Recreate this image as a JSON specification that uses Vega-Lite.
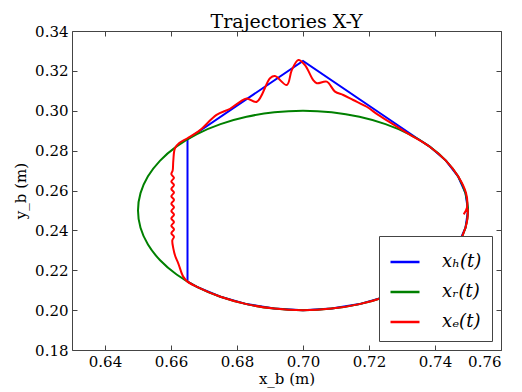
{
  "$schema": "https://vega.github.io/schema/vega-lite/v6.json",
  "width": 429,
  "height": 319,
  "autosize": {"type": "none"},
  "padding": {"left": 72, "top": 31, "right": 21, "bottom": 42},
  "background": "white",
  "title": {"text": "Trajectories X-Y", "font": "DejaVu Serif", "fontSize": 19, "fontWeight": "normal", "color": "black", "offset": -8},
  "config": {
    "view": {"stroke": "#444", "strokeWidth": 1},
    "axis": {"labelFont": "DejaVu Serif", "labelFontSize": 15, "labelColor": "black", "titleFont": "DejaVu Serif", "titleFontSize": 15, "titleFontWeight": "normal", "titleColor": "black", "grid": false, "domain": false, "tickColor": "#444", "tickSize": -5, "ticks": true},
    "legend": {"labelFont": "DejaVu Serif", "labelFontStyle": "italic", "labelFontSize": 18, "labelColor": "black"}
  },
  "datasets": {
    "traj": [
      {"series": "xₕ(t)", "ord": 0, "x": 0.665, "y": 0.2143},
      {"series": "xₕ(t)", "ord": 1, "x": 0.665, "y": 0.2857},
      {"series": "xₕ(t)", "ord": 2, "x": 0.70, "y": 0.325},
      {"series": "xₕ(t)", "ord": 3, "x": 0.735, "y": 0.2857},
      {"series": "xₕ(t)", "ord": 4, "x": 0.7383, "y": 0.28214},
      {"series": "xₕ(t)", "ord": 5, "x": 0.7433, "y": 0.275},
      {"series": "xₕ(t)", "ord": 6, "x": 0.74698, "y": 0.2671},
      {"series": "xₕ(t)", "ord": 7, "x": 0.74924, "y": 0.25868},
      {"series": "xₕ(t)", "ord": 8, "x": 0.75, "y": 0.25},
      {"series": "xₕ(t)", "ord": 9, "x": 0.74924, "y": 0.24132},
      {"series": "xₕ(t)", "ord": 10, "x": 0.74698, "y": 0.2329},
      {"series": "xₕ(t)", "ord": 11, "x": 0.7433, "y": 0.225},
      {"series": "xₕ(t)", "ord": 12, "x": 0.7383, "y": 0.21786},
      {"series": "xₕ(t)", "ord": 13, "x": 0.73214, "y": 0.2117},
      {"series": "xₕ(t)", "ord": 14, "x": 0.725, "y": 0.2067},
      {"series": "xₕ(t)", "ord": 15, "x": 0.7171, "y": 0.20302},
      {"series": "xₕ(t)", "ord": 16, "x": 0.70868, "y": 0.20076},
      {"series": "xₕ(t)", "ord": 17, "x": 0.70, "y": 0.20},
      {"series": "xₕ(t)", "ord": 18, "x": 0.69132, "y": 0.20076},
      {"series": "xₕ(t)", "ord": 19, "x": 0.6829, "y": 0.20302},
      {"series": "xₕ(t)", "ord": 20, "x": 0.675, "y": 0.2067},
      {"series": "xₕ(t)", "ord": 21, "x": 0.66786, "y": 0.2117},
      {"series": "xₕ(t)", "ord": 22, "x": 0.665, "y": 0.2143},

      {"series": "xᵣ(t)", "ord": 0, "x": 0.75, "y": 0.25},
      {"series": "xᵣ(t)", "ord": 1, "x": 0.74924, "y": 0.25868},
      {"series": "xᵣ(t)", "ord": 2, "x": 0.74698, "y": 0.2671},
      {"series": "xᵣ(t)", "ord": 3, "x": 0.7433, "y": 0.275},
      {"series": "xᵣ(t)", "ord": 4, "x": 0.7383, "y": 0.28214},
      {"series": "xᵣ(t)", "ord": 5, "x": 0.73214, "y": 0.2883},
      {"series": "xᵣ(t)", "ord": 6, "x": 0.725, "y": 0.2933},
      {"series": "xᵣ(t)", "ord": 7, "x": 0.7171, "y": 0.29698},
      {"series": "xᵣ(t)", "ord": 8, "x": 0.70868, "y": 0.29924},
      {"series": "xᵣ(t)", "ord": 9, "x": 0.70, "y": 0.30},
      {"series": "xᵣ(t)", "ord": 10, "x": 0.69132, "y": 0.29924},
      {"series": "xᵣ(t)", "ord": 11, "x": 0.6829, "y": 0.29698},
      {"series": "xᵣ(t)", "ord": 12, "x": 0.675, "y": 0.2933},
      {"series": "xᵣ(t)", "ord": 13, "x": 0.66786, "y": 0.2883},
      {"series": "xᵣ(t)", "ord": 14, "x": 0.6617, "y": 0.28214},
      {"series": "xᵣ(t)", "ord": 15, "x": 0.6567, "y": 0.275},
      {"series": "xᵣ(t)", "ord": 16, "x": 0.65302, "y": 0.2671},
      {"series": "xᵣ(t)", "ord": 17, "x": 0.65076, "y": 0.25868},
      {"series": "xᵣ(t)", "ord": 18, "x": 0.65, "y": 0.25},
      {"series": "xᵣ(t)", "ord": 19, "x": 0.65076, "y": 0.24132},
      {"series": "xᵣ(t)", "ord": 20, "x": 0.65302, "y": 0.2329},
      {"series": "xᵣ(t)", "ord": 21, "x": 0.6567, "y": 0.225},
      {"series": "xᵣ(t)", "ord": 22, "x": 0.6617, "y": 0.21786},
      {"series": "xᵣ(t)", "ord": 23, "x": 0.66786, "y": 0.2117},
      {"series": "xᵣ(t)", "ord": 24, "x": 0.675, "y": 0.2067},
      {"series": "xᵣ(t)", "ord": 25, "x": 0.6829, "y": 0.20302},
      {"series": "xᵣ(t)", "ord": 26, "x": 0.69132, "y": 0.20076},
      {"series": "xᵣ(t)", "ord": 27, "x": 0.70, "y": 0.20},
      {"series": "xᵣ(t)", "ord": 28, "x": 0.70868, "y": 0.20076},
      {"series": "xᵣ(t)", "ord": 29, "x": 0.7171, "y": 0.20302},
      {"series": "xᵣ(t)", "ord": 30, "x": 0.725, "y": 0.2067},
      {"series": "xᵣ(t)", "ord": 31, "x": 0.73214, "y": 0.2117},
      {"series": "xᵣ(t)", "ord": 32, "x": 0.7383, "y": 0.21786},
      {"series": "xᵣ(t)", "ord": 33, "x": 0.7433, "y": 0.225},
      {"series": "xᵣ(t)", "ord": 34, "x": 0.74698, "y": 0.2329},
      {"series": "xᵣ(t)", "ord": 35, "x": 0.74924, "y": 0.24132},
      {"series": "xᵣ(t)", "ord": 36, "x": 0.75, "y": 0.25},
      {"series": "xᵣ(t)", "ord": 37, "x": 0.74924, "y": 0.25868},

      {"series": "xₑ(t)", "ord": 0, "x": 0.7487, "y": 0.248},
      {"series": "xₑ(t)", "ord": 1, "x": 0.7497, "y": 0.2515},
      {"series": "xₑ(t)", "ord": 2, "x": 0.7494, "y": 0.2587},
      {"series": "xₑ(t)", "ord": 3, "x": 0.747, "y": 0.2671},
      {"series": "xₑ(t)", "ord": 4, "x": 0.7433, "y": 0.275},
      {"series": "xₑ(t)", "ord": 5, "x": 0.7383, "y": 0.2821},
      {"series": "xₑ(t)", "ord": 6, "x": 0.7321, "y": 0.2883},
      {"series": "xₑ(t)", "ord": 7, "x": 0.7275, "y": 0.293},
      {"series": "xₑ(t)", "ord": 8, "x": 0.7228, "y": 0.2979},
      {"series": "xₑ(t)", "ord": 9, "x": 0.7193, "y": 0.302},
      {"series": "xₑ(t)", "ord": 10, "x": 0.7152, "y": 0.3054},
      {"series": "xₑ(t)", "ord": 11, "x": 0.7122, "y": 0.3079},
      {"series": "xₑ(t)", "ord": 12, "x": 0.7097, "y": 0.3096},
      {"series": "xₑ(t)", "ord": 13, "x": 0.7072, "y": 0.3146},
      {"series": "xₑ(t)", "ord": 14, "x": 0.7042, "y": 0.3138},
      {"series": "xₑ(t)", "ord": 15, "x": 0.7031, "y": 0.3154},
      {"series": "xₑ(t)", "ord": 16, "x": 0.7006, "y": 0.3229},
      {"series": "xₑ(t)", "ord": 17, "x": 0.6986, "y": 0.3255},
      {"series": "xₑ(t)", "ord": 18, "x": 0.6966, "y": 0.3204},
      {"series": "xₑ(t)", "ord": 19, "x": 0.6951, "y": 0.3129},
      {"series": "xₑ(t)", "ord": 20, "x": 0.6915, "y": 0.3174},
      {"series": "xₑ(t)", "ord": 21, "x": 0.69, "y": 0.3163},
      {"series": "xₑ(t)", "ord": 22, "x": 0.686, "y": 0.3045},
      {"series": "xₑ(t)", "ord": 23, "x": 0.6829, "y": 0.3062},
      {"series": "xₑ(t)", "ord": 24, "x": 0.6809, "y": 0.3045},
      {"series": "xₑ(t)", "ord": 25, "x": 0.6779, "y": 0.301},
      {"series": "xₑ(t)", "ord": 26, "x": 0.6738, "y": 0.2979},
      {"series": "xₑ(t)", "ord": 27, "x": 0.6688, "y": 0.2903},
      {"series": "xₑ(t)", "ord": 28, "x": 0.665, "y": 0.2862},
      {"series": "xₑ(t)", "ord": 29, "x": 0.6625, "y": 0.2838},
      {"series": "xₑ(t)", "ord": 30, "x": 0.6612, "y": 0.2812},
      {"series": "xₑ(t)", "ord": 31, "x": 0.6607, "y": 0.275},
      {"series": "xₑ(t)", "ord": 32, "x": 0.6605, "y": 0.27},
      {"series": "xₑ(t)", "ord": 33, "x": 0.6601, "y": 0.2682},
      {"series": "xₑ(t)", "ord": 34, "x": 0.6609, "y": 0.2664},
      {"series": "xₑ(t)", "ord": 35, "x": 0.6601, "y": 0.2645},
      {"series": "xₑ(t)", "ord": 36, "x": 0.6609, "y": 0.2627},
      {"series": "xₑ(t)", "ord": 37, "x": 0.6601, "y": 0.2608},
      {"series": "xₑ(t)", "ord": 38, "x": 0.6609, "y": 0.259},
      {"series": "xₑ(t)", "ord": 39, "x": 0.6601, "y": 0.2571},
      {"series": "xₑ(t)", "ord": 40, "x": 0.6609, "y": 0.2553},
      {"series": "xₑ(t)", "ord": 41, "x": 0.6601, "y": 0.2534},
      {"series": "xₑ(t)", "ord": 42, "x": 0.6609, "y": 0.2516},
      {"series": "xₑ(t)", "ord": 43, "x": 0.6601, "y": 0.2497},
      {"series": "xₑ(t)", "ord": 44, "x": 0.6609, "y": 0.2479},
      {"series": "xₑ(t)", "ord": 45, "x": 0.6601, "y": 0.246},
      {"series": "xₑ(t)", "ord": 46, "x": 0.6609, "y": 0.2442},
      {"series": "xₑ(t)", "ord": 47, "x": 0.6601, "y": 0.2423},
      {"series": "xₑ(t)", "ord": 48, "x": 0.6609, "y": 0.2405},
      {"series": "xₑ(t)", "ord": 49, "x": 0.6601, "y": 0.2386},
      {"series": "xₑ(t)", "ord": 50, "x": 0.6609, "y": 0.2368},
      {"series": "xₑ(t)", "ord": 51, "x": 0.6604, "y": 0.235},
      {"series": "xₑ(t)", "ord": 52, "x": 0.6607, "y": 0.231},
      {"series": "xₑ(t)", "ord": 53, "x": 0.6613, "y": 0.227},
      {"series": "xₑ(t)", "ord": 54, "x": 0.6622, "y": 0.2235},
      {"series": "xₑ(t)", "ord": 55, "x": 0.6637, "y": 0.2168},
      {"series": "xₑ(t)", "ord": 56, "x": 0.665, "y": 0.2143},
      {"series": "xₑ(t)", "ord": 57, "x": 0.66786, "y": 0.2117},
      {"series": "xₑ(t)", "ord": 58, "x": 0.675, "y": 0.2067},
      {"series": "xₑ(t)", "ord": 59, "x": 0.6829, "y": 0.20302},
      {"series": "xₑ(t)", "ord": 60, "x": 0.69132, "y": 0.20076},
      {"series": "xₑ(t)", "ord": 61, "x": 0.70, "y": 0.20},
      {"series": "xₑ(t)", "ord": 62, "x": 0.70868, "y": 0.20076},
      {"series": "xₑ(t)", "ord": 63, "x": 0.7171, "y": 0.20302},
      {"series": "xₑ(t)", "ord": 64, "x": 0.725, "y": 0.2067},
      {"series": "xₑ(t)", "ord": 65, "x": 0.73214, "y": 0.2117},
      {"series": "xₑ(t)", "ord": 66, "x": 0.7383, "y": 0.21786},
      {"series": "xₑ(t)", "ord": 67, "x": 0.7433, "y": 0.225},
      {"series": "xₑ(t)", "ord": 68, "x": 0.74698, "y": 0.2329},
      {"series": "xₑ(t)", "ord": 69, "x": 0.74924, "y": 0.24132},
      {"series": "xₑ(t)", "ord": 70, "x": 0.7499, "y": 0.247},
      {"series": "xₑ(t)", "ord": 71, "x": 0.7499, "y": 0.251}
    ]
  },
  "data": {"name": "traj"},
  "encoding": {
    "x": {"field": "x", "type": "quantitative", "scale": {"domain": [0.63, 0.76], "nice": false, "zero": false}},
    "y": {"field": "y", "type": "quantitative", "scale": {"domain": [0.18, 0.34], "nice": false, "zero": false}},
    "order": {"field": "ord", "type": "quantitative"},
    "color": {"field": "series", "type": "nominal", "scale": {"domain": ["xₕ(t)", "xᵣ(t)", "xₑ(t)"], "range": ["#0000ff", "#008000", "#ff0000"]},
      "legend": {"title": null, "orient": "bottom-right", "offset": 9, "strokeColor": "#444", "fillColor": "white", "padding": 10, "symbolType": "stroke", "symbolSize": 841, "symbolStrokeWidth": 2.5, "labelOffset": 21, "rowPadding": 5}}
  },
  "resolve": {"axis": {"x": "independent", "y": "independent"}},
  "layer": [
    {
      "transform": [{"filter": "datum.series === 'xₕ(t)'"}],
      "mark": {"type": "line", "strokeWidth": 2},
      "encoding": {
        "x": {"field": "x", "type": "quantitative", "axis": {"orient": "bottom", "title": "x_b (m)", "labelFont": "DejaVu Serif", "titleFont": "DejaVu Serif", "values": [0.64, 0.66, 0.68, 0.70, 0.72, 0.74, 0.76], "format": ".2f", "labelPadding": 9, "titlePadding": 2}},
        "y": {"field": "y", "type": "quantitative", "axis": {"orient": "left", "title": "y_b (m)", "labelFont": "DejaVu Serif", "titleFont": "DejaVu Serif", "values": [0.18, 0.20, 0.22, 0.24, 0.26, 0.28, 0.30, 0.32, 0.34], "format": ".2f", "labelPadding": 9, "titlePadding": 6}}
      }
    },
    {
      "transform": [{"filter": "datum.series === 'xᵣ(t)'"}],
      "mark": {"type": "line", "strokeWidth": 2, "interpolate": "catmull-rom"},
      "encoding": {
        "x": {"field": "x", "type": "quantitative", "axis": {"orient": "top", "title": null, "labels": false, "values": [0.64, 0.66, 0.68, 0.70, 0.72, 0.74, 0.76]}},
        "y": {"field": "y", "type": "quantitative", "axis": {"orient": "right", "title": null, "labels": false, "values": [0.18, 0.20, 0.22, 0.24, 0.26, 0.28, 0.30, 0.32, 0.34]}}
      }
    },
    {
      "transform": [{"filter": "datum.series === 'xₑ(t)'"}],
      "mark": {"type": "line", "strokeWidth": 2, "interpolate": "catmull-rom"},
      "encoding": {
        "x": {"field": "x", "type": "quantitative", "axis": null},
        "y": {"field": "y", "type": "quantitative", "axis": null}
      }
    }
  ]
}
